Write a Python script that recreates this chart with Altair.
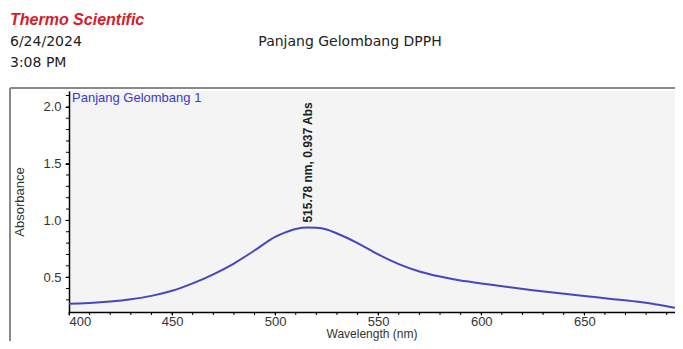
import altair as alt
import pandas as pd

# Spectrum data
wavelength = [400, 405, 410, 420, 430, 440, 450, 460, 470, 480, 490, 500, 505, 510,
              515.78, 520, 525, 530, 535, 540, 550, 560, 570, 580, 590, 600, 612,
              625, 637, 650, 662, 675, 685, 694]
absorbance = [0.265, 0.268, 0.272, 0.285, 0.305, 0.335, 0.38, 0.445, 0.525, 0.62, 0.735,
              0.855, 0.895, 0.925, 0.937, 0.935, 0.92, 0.885, 0.845, 0.80, 0.70, 0.615,
              0.55, 0.505, 0.47, 0.445, 0.415, 0.385, 0.36, 0.335, 0.31, 0.285, 0.26, 0.23]

peak_wl = [515.78]
peak_abs = [0.937]
peak_label = ["515.78 nm, 0.937 Abs"]

x_major = [400, 450, 500, 550, 600, 650]
x_minor = list(range(400, 695, 10))
y_major = [0.5, 1.0, 1.5, 2.0]
y_minor = [round(0.3 + 0.1 * i, 1) for i in range(19)]

W, H = 606, 221
X_DOMAIN = [400, 694]
Y_DOMAIN = [0.193, 2.14]

df = pd.DataFrame({"wl": wavelength, "abs": absorbance})
peak = pd.DataFrame({"wl": peak_wl, "abs": peak_abs, "label": peak_label})

xs = alt.Scale(domain=X_DOMAIN, nice=False, zero=False)
ys = alt.Scale(domain=Y_DOMAIN, nice=False, zero=False)

FONT = "Liberation Sans"

line = alt.Chart(df).mark_line(color="#4646c0", strokeWidth=2, interpolate="monotone").encode(
    x=alt.X("wl:Q", scale=xs, axis=alt.Axis(
        values=x_major, title=None, grid=False, domainColor="#000",
        domainWidth=1.5, tickColor="#000", tickSize=3, labelFont=FONT, labelFontSize=13,
        labelColor="#333", labelPadding=0)),
    y=alt.Y("abs:Q", scale=ys, axis=alt.Axis(
        values=y_major, format=".1f", title="Absorbance", grid=False, domainColor="#000",
        domainWidth=1.5, tickColor="#000", tickSize=4, labelFont=FONT, labelFontSize=13,
        labelColor="#333", titleFont=FONT, titleFontSize=13, titleFontWeight="normal",
        titleColor="#333", labelPadding=4, titlePadding=16)),
)

x_title = alt.Chart(pd.DataFrame({"t": ["Wavelength (nm)"]})).mark_text(
    align="center", baseline="bottom", font=FONT, fontSize=12, color="#333").encode(
    x=alt.value(W / 2), y=alt.value(H + 29), text="t:N")

xminor = alt.Chart(pd.DataFrame({"v": x_minor})).mark_rule(color="#000", strokeWidth=1).encode(
    x=alt.X("v:Q", scale=xs), y=alt.value(H), y2=alt.value(H + 3))
yminor = alt.Chart(pd.DataFrame({"v": y_minor})).mark_rule(color="#000", strokeWidth=1).encode(
    y=alt.Y("v:Q", scale=ys), x=alt.value(0), x2=alt.value(-3))

peak_text = alt.Chart(peak).mark_text(
    angle=270, align="left", baseline="middle", dx=5, font=FONT, fontSize=12,
    fontWeight="bold", color="#222").encode(
    x=alt.X("wl:Q", scale=xs), y=alt.Y("abs:Q", scale=ys), text="label:N")

series_label = alt.Chart(pd.DataFrame({"t": ["Panjang Gelombang 1"]})).mark_text(
    align="left", baseline="middle", font=FONT, fontSize=13, color="#3a3acb").encode(
    x=alt.value(3), y=alt.value(7), text="t:N")

brand = alt.Chart(pd.DataFrame({"t": ["Thermo Scientific"]})).mark_text(
    align="left", baseline="middle", font=FONT, fontSize=16, fontWeight="bold",
    fontStyle="italic", color="#d4202a").encode(
    x=alt.value(-59), y=alt.value(-71), text="t:N")

date_txt = alt.Chart(pd.DataFrame({"t": ["6/24/2024"]})).mark_text(
    align="left", baseline="middle", font="DejaVu Sans", fontSize=14, color="#222").encode(
    x=alt.value(-59), y=alt.value(-49), text="t:N")
time_txt = alt.Chart(pd.DataFrame({"t": ["3:08 PM"]})).mark_text(
    align="left", baseline="middle", font="DejaVu Sans", fontSize=14, color="#222").encode(
    x=alt.value(-59), y=alt.value(-28), text="t:N")
title_txt = alt.Chart(pd.DataFrame({"t": ["Panjang Gelombang DPPH"]})).mark_text(
    align="center", baseline="middle", font="DejaVu Sans", fontSize=14, color="#222").encode(
    x=alt.value(281), y=alt.value(-49), text="t:N")

frame_top = alt.Chart(pd.DataFrame({"a": [0]})).mark_rule(color="#8a8a8a", strokeWidth=2).encode(
    x=alt.value(-59), x2=alt.value(700), y=alt.value(-3))
frame_left = alt.Chart(pd.DataFrame({"a": [0]})).mark_rule(color="#8a8a8a", strokeWidth=2).encode(
    x=alt.value(-59), y=alt.value(-3), y2=alt.value(300))

chart = alt.layer(
    frame_top, frame_left, line, xminor, yminor, peak_text, series_label, x_title,
    brand, date_txt, time_txt, title_txt
).properties(
    width=W, height=H,
    autosize=alt.AutoSizeParams(type="none"),
    padding={"left": 61, "top": 83, "right": 0, "bottom": 29},
    background="white",
).configure_view(fill="#f4f4f4", stroke=None)

chart.save("out.html", embed_options={"renderer": "svg", "actions": False})
